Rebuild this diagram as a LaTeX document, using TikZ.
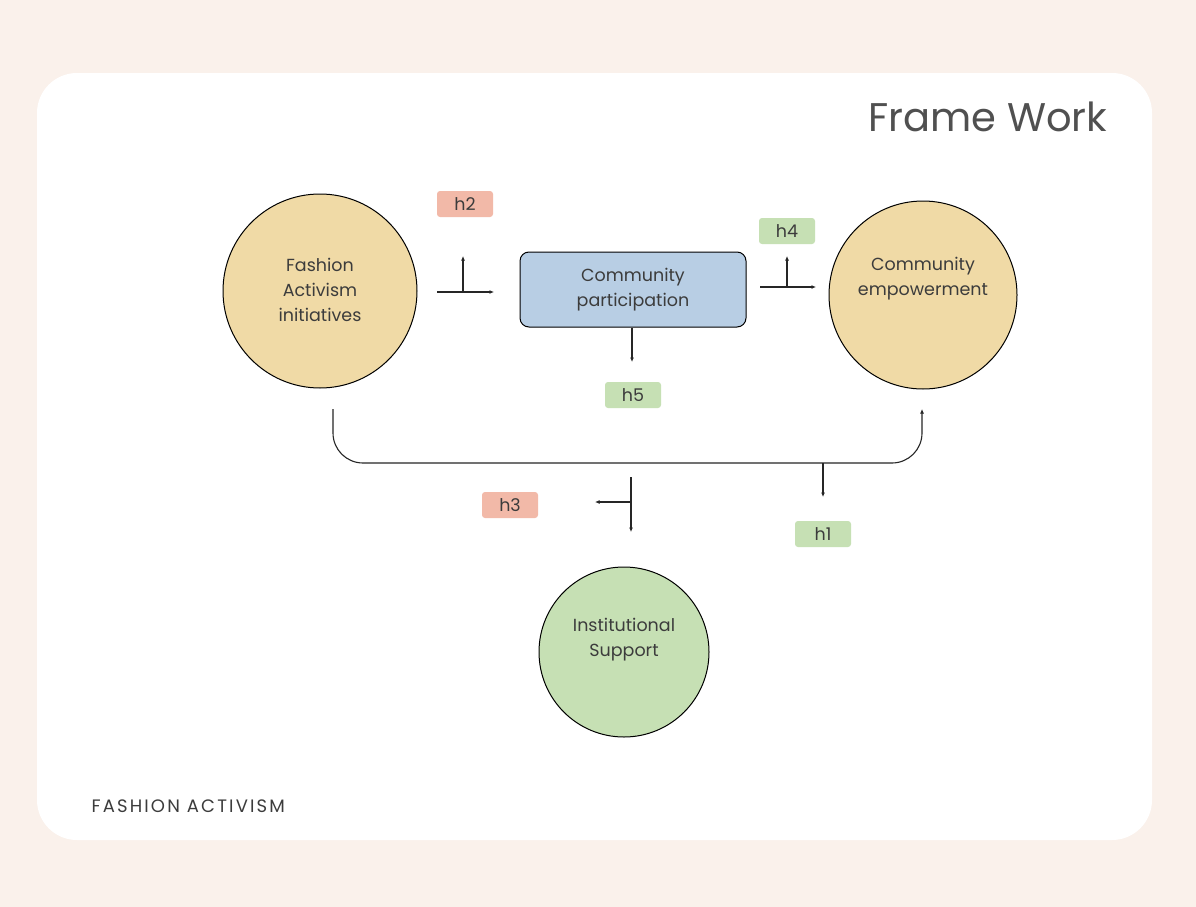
\documentclass[tikz,border=0pt]{standalone}
\usepackage{fontspec}
\setmainfont{Poppins}
\usetikzlibrary{arrows.meta}
\definecolor{bgpeach}{HTML}{FAF1EB}
\definecolor{tan}{HTML}{F0DAA6}
\definecolor{boxblue}{HTML}{B8CEE4}
\definecolor{leaf}{HTML}{C6E0B4}
\definecolor{salmon}{HTML}{F2B9A8}
\definecolor{txt}{HTML}{3C3C3C}
\tikzset{
  x=1pt,y=-1pt,
  concept/.style={circle,draw=black,line width=1pt,inner sep=0pt},
  ctext/.style={text=txt,font=\fontsize{17.5}{25}\selectfont,align=center,inner sep=0pt},
  procbox/.style={rectangle,rounded corners=9pt,draw=black,line width=1pt,fill=boxblue,text=txt,font=\fontsize{17.5}{25}\selectfont,align=center,minimum width=226pt,minimum height=75pt},
  hyp/.style={rectangle,rounded corners=3pt,text=txt,font=\fontsize{17.5}{20}\selectfont,minimum width=56pt,minimum height=26pt,inner sep=0pt},
  conn/.style={line width=1.1pt,black!85},
  tip/.style={conn,-{Latex[length=4.5pt,width=4pt]}}
}
\begin{document}
\begin{tikzpicture}
\useasboundingbox (0,0) rectangle (1196,907);
\fill[bgpeach] (0,0) rectangle (1196,907);
\fill[white,rounded corners=40pt] (37,73) rectangle (1152,840);

\node[anchor=east,text=txt!90,font=\fontsize{40}{42}\selectfont] (title) at (1111,117) {Frame Work};
\node[anchor=west,text=txt,font=\fontsize{18}{20}\selectfont\addfontfeature{LetterSpace=12}] (foot) at (88,806) {FASHION ACTIVISM};

\node[concept,fill=tan,minimum size=194pt] (fai) at (320,291) {};
\node[ctext] (faitext) at (320,290) {Fashion\\Activism\\initiatives};
\node[procbox] (cp) at (633,289.5) {Community\\participation};
\node[concept,fill=tan,minimum size=188pt] (ce) at (923,295) {};
\node[ctext] (cetext) at (923,279) {Community\\empowerment};
\node[concept,fill=leaf,minimum size=170pt] (is) at (624,652) {};
\node[ctext] (istext) at (624,640) {Institutional\\Support};

\node[hyp,fill=salmon] (h2) at (465,204) {h2};
\node[hyp,fill=leaf] (h4) at (787,231) {h4};
\node[hyp,fill=leaf] (h5) at (633,395) {h5};
\node[hyp,fill=salmon] (h3) at (510,505) {h3};
\node[hyp,fill=leaf] (h1) at (823,534) {h1};

% h2 arrows
\coordinate (a2s) at (437,292);
\coordinate (a2e) at (494,292);
\coordinate (a2m) at (463,292);
\coordinate (a2u) at (463,256);
\draw[tip] (a2s) -- (a2e);
\draw[tip] (a2m) -- (a2u);
% h4 arrows
\coordinate (a4s) at (760,287);
\coordinate (a4e) at (816,287);
\coordinate (a4m) at (787,287);
\coordinate (a4u) at (787,256);
\draw[tip] (a4s) -- (a4e);
\draw[tip] (a4m) -- (a4u);
% h5 arrow
\coordinate (a5e) at (632,362);
\draw[tip] (cp.south -| a5e) -- (a5e);
% bracket h1
\coordinate (b1) at (333,409);
\coordinate (b2) at (922,409);
\draw[tip,rounded corners=30pt] (b1) -- (333,463) -- (922,463) -- (b2);
\coordinate (c1) at (823,463);
\coordinate (c2) at (823,497);
\draw[tip] (c1) -- (c2);
% h3 arrows
\coordinate (d1) at (631,477);
\coordinate (d2) at (631,532);
\coordinate (d3) at (631,502);
\coordinate (d4) at (595,502);
\draw[tip] (d1) -- (d2);
\draw[tip] (d3) -- (d4);
\end{tikzpicture}
\end{document}
